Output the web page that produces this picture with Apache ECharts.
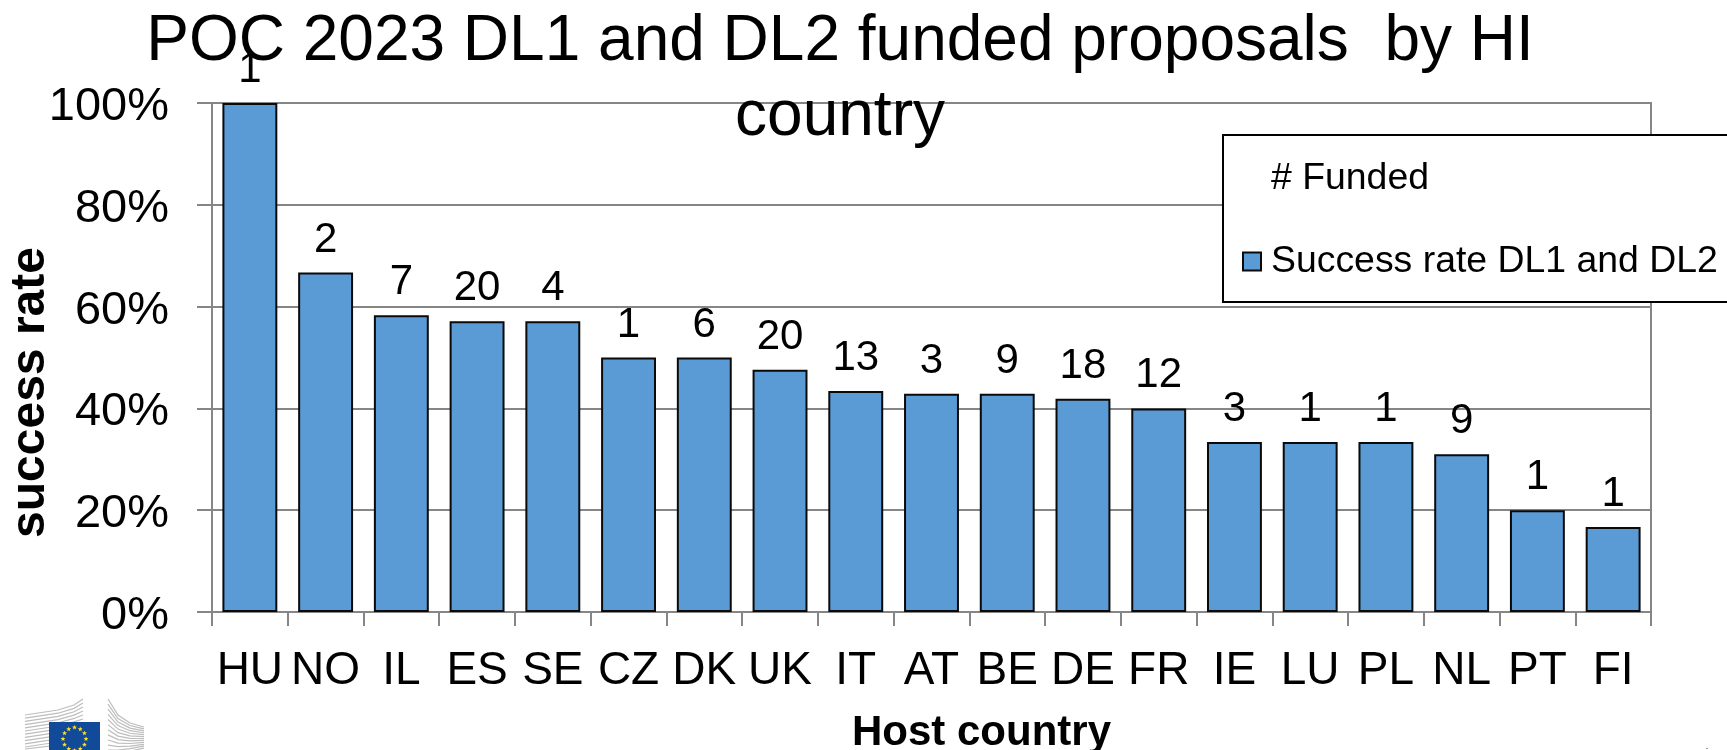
<!DOCTYPE html>
<html><head><meta charset="utf-8">
<style>html,body{margin:0;padding:0;background:#fff;overflow:hidden}#c{width:1727px;height:750px}</style>
<script src="https://cdn.jsdelivr.net/npm/echarts@6/dist/echarts.min.js"></script>
</head><body><div id="c"></div>
<script>
const countries = ['HU','NO','IL','ES','SE','CZ','DK','UK','IT','AT','BE','DE','FR','IE','LU','PL','NL','PT','FI'];
const successRate = [100,66.7,58.3,57.1,57.1,50,50,47.6,43.4,42.9,42.9,41.9,40,33.4,33.4,33.4,31,20,16.7];
const funded = [1,2,7,20,4,1,6,20,13,3,9,18,12,3,1,1,9,1,1];
const titleText = 'POC 2023 DL1 and DL2 funded proposals  by HI\ncountry';
const F = '"Liberation Sans", Arial, sans-serif';
const AX = '#868686';

// European Commission logo decoration
const logo = [];
logo.push({type:'rect',shape:{x:49,y:722,width:51,height:30},style:{fill:'#124a9a'},z:5});
for (let i=0;i<12;i++){
  const t=i*3.2;
  logo.push({type:'polyline',shape:{points:[[25,715+t],[58,710+t],[74,705+t*1.05],[83,699+t*1.25]].map(p=>[p[0],Math.min(p[1],749)])},style:{fill:null,stroke:'#bdbdbd',lineWidth:1.2},z:4});
  logo.push({type:'polyline',shape:{points:[[108,699+t*1.6],[118,715+t*1.1],[130,723+t*.8],[144,727+t*.6]]},style:{fill:null,stroke:'#bdbdbd',lineWidth:1.2},z:4});
}
for (let k=0;k<12;k++){
  const a=k*Math.PI/6, cx=74.5+11.5*Math.sin(a), cy=739-11.5*Math.cos(a), pts=[];
  for (let j=0;j<10;j++){const r=j%2?1.1:2.6,b=j*Math.PI/5;pts.push([cx+r*Math.sin(b),cy-r*Math.cos(b)]);}
  logo.push({type:'polygon',shape:{points:pts},style:{fill:'#ffe21a'},z:6});
}
logo.push({type:'rect',shape:{x:1706,y:748,width:2,height:1},style:{fill:'#999'},z:4});

const chart = echarts.init(document.getElementById('c'),null,{renderer:'canvas'});
chart.setOption({
  animation:false,
  backgroundColor:'#fff',
  textStyle:{fontFamily:F,color:'#000'},
  title:{text:titleText,left:835,top:0,textAlign:'center',z:8,
    textStyle:{fontFamily:F,fontSize:64,fontWeight:'normal',color:'#000',lineHeight:75}},
  legend:{
    left:1223,top:135,orient:'vertical',align:'left',
    width:600,
    padding:[25,100,22,19],
    itemGap:46,itemWidth:18,itemHeight:18,
    backgroundColor:'#fff',borderColor:'#000',borderWidth:2,
    textStyle:{fontFamily:F,fontSize:37.4,color:'#000',padding:[0,0,0,5]},
    data:[{name:'# Funded',icon:'none'},{name:'Success rate DL1 and DL2',icon:'rect'}]
  },
  grid:{left:212,right:76,top:103,bottom:138,show:true,borderColor:AX,borderWidth:2,backgroundColor:'transparent',outerBoundsMode:'none'},
  xAxis:{type:'category',data:countries,
    name:'Host country',nameLocation:'middle',nameGap:100,nameMoveOverlap:false,
    nameTextStyle:{fontFamily:F,fontSize:42,fontWeight:'bold',color:'#000',padding:[0,0,0,100]},
    axisLine:{lineStyle:{color:AX,width:2}},
    axisTick:{show:true,length:14,alignWithLabel:false,lineStyle:{color:AX,width:2}},
    axisLabel:{fontFamily:F,fontSize:46,color:'#000',margin:36,interval:0,hideOverlap:false},
    splitLine:{show:false}},
  yAxis:{type:'value',min:0,max:100,interval:20,
    name:'success rate',nameLocation:'middle',nameGap:157,nameRotate:90,nameMoveOverlap:false,
    nameTextStyle:{fontFamily:F,fontSize:48,fontWeight:'bold',color:'#000',padding:[0,70,0,0]},
    axisLine:{show:true,lineStyle:{color:AX,width:2}},
    axisTick:{show:true,length:15,lineStyle:{color:AX,width:2}},
    axisLabel:{fontFamily:F,fontSize:47,color:'#000',margin:43,verticalAlign:'top',lineHeight:8,formatter:v=>v+'%'},
    splitLine:{show:true,lineStyle:{color:AX,width:2}}},
  series:[
    {name:'Success rate DL1 and DL2',type:'bar',data:successRate,barWidth:'72.5%',
     itemStyle:{color:'#5b9bd5',borderColor:'#0a0a0a',borderWidth:2},z:3},
    {name:'# Funded',type:'line',data:successRate,showSymbol:true,symbol:'circle',symbolSize:1,
     lineStyle:{color:'transparent',width:0},itemStyle:{color:'transparent'},z:4,
     label:{show:true,position:'top',distance:11,fontFamily:F,fontSize:42,color:'#000',
       formatter:p=>funded[p.dataIndex]}}
  ],
  graphic:logo
});
</script></body></html>
